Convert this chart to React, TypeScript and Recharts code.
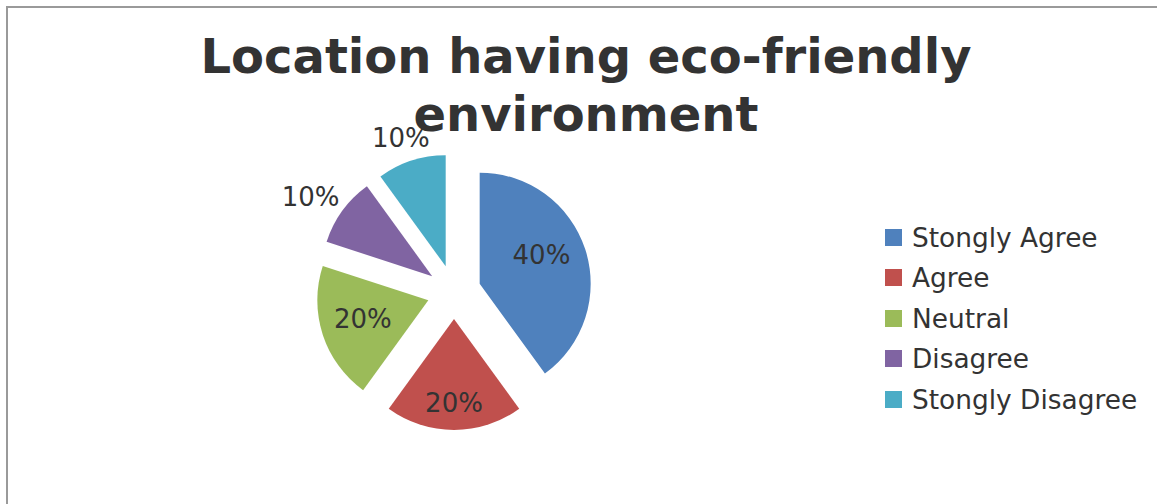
import { PieChart, Pie, Sector, Legend } from 'recharts';

const categories = ['Stongly Agree', 'Agree', 'Neutral', 'Disagree', 'Stongly Disagree'];
const shares = [40, 20, 20, 10, 10];
const colors = ['#4F81BD', '#C0504D', '#9BBB59', '#8064A2', '#4BACC6'];

const titleLines = ['Location having eco-friendly', 'environment'];

// explode distance, label distance from the pie centre and small angle nudge (deg)
const EXPLODE = 27;
const labelDist = [95, 111, 95, 172, 163];
const labelTurn = [5, 0, -1.5, 2.5, 1];

const data = categories.map((name, i) => ({ name, value: shares[i] }));

const RAD = Math.PI / 180;
const FONT = '"DejaVu Sans", sans-serif';

function ExplodedSlice(props: any) {
  const { cx, cy, innerRadius, outerRadius, startAngle, endAngle, midAngle, percent, index } = props;
  const ux = Math.cos(-midAngle * RAD);
  const uy = Math.sin(-midAngle * RAD);
  const la = midAngle + labelTurn[index];
  const lx = cx + Math.cos(-la * RAD) * labelDist[index];
  const ly = cy + Math.sin(-la * RAD) * labelDist[index];
  return (
    <g>
      <Sector
        cx={cx + ux * EXPLODE}
        cy={cy + uy * EXPLODE}
        innerRadius={innerRadius}
        outerRadius={outerRadius}
        startAngle={startAngle}
        endAngle={endAngle}
        fill={colors[index]}
        stroke="none"
      />
      <text
        x={lx}
        y={ly}
        textAnchor="middle"
        dominantBaseline="central"
        fill="#333333"
        fontSize={26}
        fontFamily={FONT}
      >
        {`${Math.round(percent * 100)}%`}
      </text>
    </g>
  );
}

function LegendBox() {
  return (
    <div style={{ fontFamily: FONT, fontSize: 26.4, color: '#333333' }}>
      {categories.map((c, i) => (
        <div key={c} style={{ display: 'flex', alignItems: 'center', height: 40.5 }}>
          <span style={{ width: 17, height: 17, background: colors[i], marginRight: 10, display: 'inline-block' }} />
          <span style={{ whiteSpace: 'nowrap' }}>{c}</span>
        </div>
      ))}
    </div>
  );
}

export default function App() {
  return (
    <div style={{ position: 'absolute', left: 0, top: 0, width: 1157, height: 504, overflow: 'hidden', background: '#fff' }}>
      <div
        style={{
          position: 'absolute',
          left: 6,
          top: 6,
          width: 1200,
          height: 600,
          borderLeft: '2px solid #9a9a9a',
          borderTop: '2px solid #9a9a9a',
        }}
      />
      <div
        style={{
          position: 'absolute',
          left: 0,
          top: 27,
          width: 1172,
          textAlign: 'center',
          fontFamily: FONT,
          fontWeight: 'bold',
          fontSize: 48,
          lineHeight: '58px',
          color: '#333333',
        }}
      >
        {titleLines.map((t) => (
          <div key={t}>{t}</div>
        ))}
      </div>
      <div style={{ position: 'absolute', left: 0, top: 0 }}>
        <PieChart width={1157} height={504}>
          <Pie
            data={data}
            dataKey="value"
            nameKey="name"
            cx={449}
            cy={287}
            outerRadius={111}
            startAngle={90}
            endAngle={-270}
            fill="transparent"
            stroke="none"
            label={ExplodedSlice}
            labelLine={false}
            isAnimationActive={false}
          />
          <Legend
            layout="vertical"
            content={() => <LegendBox />}
            wrapperStyle={{ left: 885, top: 217, width: 270 }}
          />
        </PieChart>
      </div>
    </div>
  );
}
